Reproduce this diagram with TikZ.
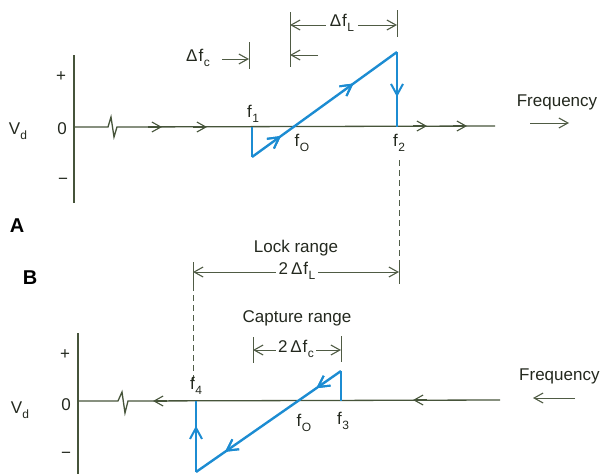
\documentclass[tikz,border=0pt]{standalone}
\usepackage{fontspec}
\setmainfont{Liberation Sans}
\usetikzlibrary{arrows.meta,decorations.markings}
\definecolor{axiscol}{RGB}{70,84,58}
\definecolor{txtcol}{RGB}{35,40,30}
\definecolor{bluecol}{RGB}{28,140,210}
\newcommand{\fsub}[1]{f\kern0.5pt\raisebox{-0.55ex}{\fontsize{12}{12}\selectfont #1}}
\newcommand{\dfs}[1]{Δ\kern1pt\fsub{#1}}
\tikzset{
  axis/.style={draw=axiscol,line width=1.3pt},
  barb/.style={-{Straight Barb[length=9pt,width=10pt,line width=1.1pt]}},
  blueline/.style={draw=bluecol,line width=2.4pt,line join=miter},
  lbl/.style={text=txtcol,font=\fontsize{17}{17}\selectfont,inner sep=0pt},
  big/.style={text=black,font=\fontsize{20}{20}\selectfont\bfseries,inner sep=0pt},
  dim/.style={draw=axiscol!85!gray,line width=1pt},
  dashline/.style={draw=axiscol!80!gray,line width=1pt,dash pattern=on 6pt off 4pt},
  bluemark/.style={postaction={decorate},decoration={markings,
     mark=at position #1 with {\arrow{Straight Barb[length=11pt,width=12pt,line width=2pt]}}}}
}
\begin{document}
\begin{tikzpicture}[x=1pt,y=-1pt]
\useasboundingbox (0,0) rectangle (601,474);
%%%%% Panel A
\node[lbl] (vdA) at (18,131) {V\raisebox{-0.55ex}{\fontsize{12}{12}\selectfont d}};
\node[lbl] (plusA) at (61,77) {+};
\node[lbl] (zeroA) at (62,129) {0};
\node[lbl] (minusA) at (63,181) {−};
\coordinate (yTopA) at (74,55);
\coordinate (yBotA) at (74,203);
\draw[axis] (yTopA) -- (yBotA);
\coordinate (oA) at (75,127);
\coordinate (endA) at (495,126);
\draw[axis,line join=miter] (oA) -- (108,127) -- (111,117) -- (114,137) -- (117,127) -- (endA);
\draw[axis,barb] (148,127) -- (162,127);
\draw[axis,barb] (193,127) -- (207,127);
\draw[axis,barb] (413,126) -- (427,126);
\draw[axis,barb] (453,126) -- (467,126);
\node[lbl] (freqA) at (557,102) {Frequency};
\coordinate (faS) at (530,123);
\coordinate (faE) at (569,123);
\draw[dim,barb] (faS) -- (faE);
% blue trace
\coordinate (f1) at (252,127);
\coordinate (lowA) at (252,157);
\coordinate (topA) at (397,52);
\coordinate (f2) at (397,127);
\draw[blueline] (f1) -- (lowA);
\draw[blueline,bluemark=0.2,bluemark=0.7] (lowA) -- (topA);
\draw[blueline,bluemark=0.6] (topA) -- (f2);
\node[lbl] (lf1) at (253,114) {\fsub{1}};
\node[lbl] (lf0A) at (302,143) {\fsub{O}};
\node[lbl] (lf2) at (399,143) {\fsub{2}};
% dimension marks
\coordinate (tL1a) at (290,12); \coordinate (tL1b) at (290,67);
\draw[dim] (tL1a) -- (tL1b);
\coordinate (tL2a) at (397,10); \coordinate (tL2b) at (397,37);
\draw[dim] (tL2a) -- (tL2b);
\node[lbl] (dfL) at (342,23) {\dfs{L}};
\draw[dim,barb] (dfL.west) ++(-4,2) -- (290,25);
\draw[dim,barb] (dfL.east) ++(4,2) -- (397,25);
\draw[dim,barb] (318,55) -- (290,55);
\coordinate (tCa) at (249,42); \coordinate (tCb) at (249,69);
\draw[dim] (tCa) -- (tCb);
\node[lbl] (dfC) at (198,58) {\dfs{c}};
\draw[dim,barb] (222,59) -- (249,59);
\node[big] (labA) at (17,226) {A};
\node[big] (labB) at (30,278) {B};
%%%%% Lock range
\draw[dashline] (399,160) -- (399,262);
\draw[dim] (399,262) -- (399,284);
\draw[dim] (193,262) -- (193,285);
\draw[dashline] (193,285) -- (193,380);
\node[lbl] (lock) at (296,248) {Lock range};
\node[lbl] (lock2) at (297,271) {2\,\dfs{L}};
\draw[dim,barb] (lock2.west) ++(-3,1) -- (193,272);
\draw[dim,barb] (lock2.east) ++(3,1) -- (399,272);
\node[lbl] (cap) at (297,318) {Capture range};
\node[lbl] (cap2) at (296,349) {2\,\dfs{c}};
\draw[dim] (253,337) -- (253,363);
\draw[dim] (341,336) -- (341,362);
\draw[dim,barb] (cap2.west) ++(-2,1) -- (253,350);
\draw[dim,barb] (cap2.east) ++(2,1) -- (341,350);
%%%%% Panel B
\node[lbl] (vdB) at (20,410) {V\raisebox{-0.55ex}{\fontsize{12}{12}\selectfont d}};
\node[lbl] (plusB) at (65,355) {+};
\node[lbl] (zeroB) at (66,405) {0};
\node[lbl] (minusB) at (66,455) {−};
\draw[axis] (78,333) -- (78,474);
\draw[axis,line join=miter] (79,401) -- (118,401) -- (122,392) -- (125,413) -- (128,401) -- (500,400);
\draw[axis,barb] (167,401) -- (153,401);
\draw[axis,barb] (427,400) -- (413,400);
\node[lbl,anchor=west] (freqB) at (519,376) {Frequency};
\draw[dim,barb] (575,398) -- (533,398);
% blue trace
\coordinate (f3) at (341,401);
\coordinate (topB) at (341,371);
\coordinate (lowB) at (196,472);
\coordinate (f4) at (196,401);
\draw[blueline] (f3) -- (topB);
\draw[blueline,bluemark=0.17,bluemark=0.8] (topB) -- (lowB);
\draw[blueline,bluemark=0.65] (lowB) -- (f4);
\node[lbl] (lf4) at (196,386) {\fsub{4}};
\node[lbl] (lf0B) at (304,423) {\fsub{O}};
\node[lbl] (lf3) at (343,421) {\fsub{3}};
\end{tikzpicture}
\end{document}
